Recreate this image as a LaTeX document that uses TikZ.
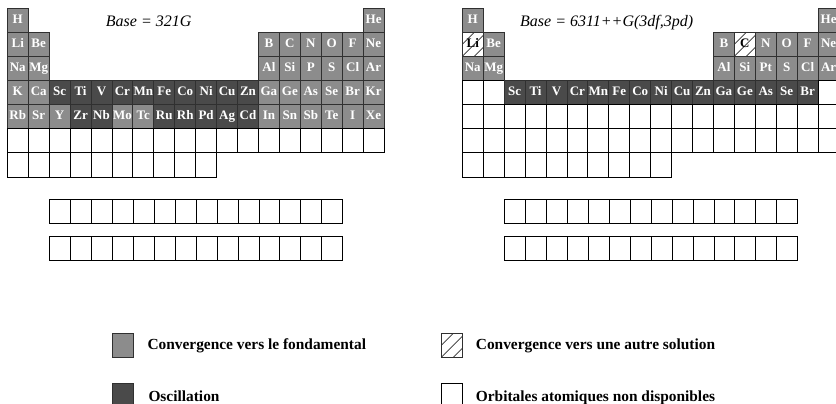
\documentclass[tikz,border=0pt]{standalone}
\usepackage{fontspec}
\setmainfont{Liberation Serif}
\definecolor{cgray}{HTML}{8C8C8C}
\definecolor{cdark}{HTML}{4A4A4A}
\definecolor{cborder}{HTML}{303030}
\begin{document}
\begin{tikzpicture}[x=1pt,y=-1pt,
  cellbase/.style={rectangle, minimum width=20.93pt, minimum height=24.15pt, inner sep=0pt,
    text height=9pt, text depth=2.5pt,
    font=\fontsize{13}{14}\selectfont\bfseries, line width=0.8pt},
  conv/.style={cellbase, fill=cgray, draw=cborder, text=white},
  osc/.style={cellbase, fill=cdark, draw=cborder, text=white},
  emptycell/.style={cellbase, fill=white, draw=black, line width=0.9pt},
  hatchcell/.style={cellbase, fill=white, draw=cborder, text=black,
    path picture={\foreach \k in {-24,-12,0,12}
      \draw[line width=0.7pt] ([xshift=\k pt]path picture bounding box.south west) -- ++(36pt,36pt);}},
  legtext/.style={anchor=base west, inner sep=0pt, font=\fontsize{15.4}{17}\selectfont\bfseries},
  titletext/.style={anchor=base west, inner sep=0pt, font=\fontsize{16}{18}\selectfont\itshape}
]
\useasboundingbox (0,0) rectangle (836,404);

% ---------- left table ----------
\def\xa{7.3}\def\ya{8}
\foreach \c/\r/\lab/\st in {
  1/1/H/conv, 18/1/He/conv,
  1/2/Li/conv, 2/2/Be/conv, 13/2/B/conv, 14/2/C/conv, 15/2/N/conv, 16/2/O/conv, 17/2/F/conv, 18/2/Ne/conv,
  1/3/Na/conv, 2/3/Mg/conv, 13/3/Al/conv, 14/3/Si/conv, 15/3/P/conv, 16/3/S/conv, 17/3/Cl/conv, 18/3/Ar/conv,
  1/4/K/conv, 2/4/Ca/conv, 3/4/Sc/osc, 4/4/Ti/osc, 5/4/V/osc, 6/4/Cr/osc, 7/4/Mn/osc, 8/4/Fe/osc,
  9/4/Co/osc, 10/4/Ni/osc, 11/4/Cu/osc, 12/4/Zn/osc, 13/4/Ga/conv, 14/4/Ge/conv, 15/4/As/conv,
  16/4/Se/conv, 17/4/Br/conv, 18/4/Kr/conv,
  1/5/Rb/conv, 2/5/Sr/conv, 3/5/Y/conv, 4/5/Zr/osc, 5/5/Nb/osc, 6/5/Mo/conv, 7/5/Tc/conv, 8/5/Ru/osc,
  9/5/Rh/osc, 10/5/Pd/osc, 11/5/Ag/osc, 12/5/Cd/osc, 13/5/In/conv, 14/5/Sn/conv, 15/5/Sb/conv,
  16/5/Te/conv, 17/5/I/conv, 18/5/Xe/conv}
  \node[\st] (L\c-\r) at ({\xa+(\c-0.5)*20.93},{\ya+(\r-0.5)*24.15}) {\lab};
\foreach \c in {1,...,18}
  \node[emptycell] (L\c-6) at ({\xa+(\c-0.5)*20.93},{\ya+5.5*24.15}) {};
\foreach \c in {1,...,10}
  \node[emptycell] (L\c-7) at ({\xa+(\c-0.5)*20.93},{\ya+6.5*24.15}) {};
\foreach \c in {1,...,14} {
  \node[emptycell] (La\c) at ({49.7+(\c-0.5)*20.93},{199.3+12.1}) {};
  \node[emptycell] (Lb\c) at ({49.7+(\c-0.5)*20.93},{236.7+12.1}) {};
}
\node[titletext] (titleL) at (105.7,26.7) {Base = 321G};

% ---------- right table ----------
\def\xb{462.3}
\foreach \c/\r/\lab/\st in {
  1/1/H/conv, 18/1/He/conv,
  1/2/Li/hatchcell, 2/2/Be/conv, 13/2/B/conv, 14/2/C/hatchcell, 15/2/N/conv, 16/2/O/conv, 17/2/F/conv, 18/2/Ne/conv,
  1/3/Na/conv, 2/3/Mg/conv, 13/3/Al/conv, 14/3/Si/conv, 15/3/Pt/conv, 16/3/S/conv, 17/3/Cl/conv, 18/3/Ar/conv,
  1/4//emptycell, 2/4//emptycell, 3/4/Sc/osc, 4/4/Ti/osc, 5/4/V/osc, 6/4/Cr/osc, 7/4/Mn/osc, 8/4/Fe/osc,
  9/4/Co/osc, 10/4/Ni/osc, 11/4/Cu/osc, 12/4/Zn/osc, 13/4/Ga/osc, 14/4/Ge/osc, 15/4/As/osc,
  16/4/Se/osc, 17/4/Br/osc, 18/4//emptycell}
  \node[\st] (R\c-\r) at ({\xb+(\c-0.5)*20.93},{\ya+(\r-0.5)*24.15}) {\lab};
\foreach \c in {1,...,18} {
  \node[emptycell] (R\c-5) at ({\xb+(\c-0.5)*20.93},{\ya+4.5*24.15}) {};
  \node[emptycell] (R\c-6) at ({\xb+(\c-0.5)*20.93},{\ya+5.5*24.15}) {};
}
\foreach \c in {1,...,10}
  \node[emptycell] (R\c-7) at ({\xb+(\c-0.5)*20.93},{\ya+6.5*24.15}) {};
\foreach \c in {1,...,14} {
  \node[emptycell] (Ra\c) at ({504.7+(\c-0.5)*20.93},{199.3+12.1}) {};
  \node[emptycell] (Rb\c) at ({504.7+(\c-0.5)*20.93},{236.7+12.1}) {};
}
\node[titletext] (titleR) at (520,26.7) {Base = 6311++G(3df,3pd)};

% ---------- legend ----------
\node[conv] (k1) at (122.8,345.3) {};
\node[legtext] (t1) at (147.3,349.3) {Convergence vers le fondamental};
\node[osc] (k2) at (122.8,395.4) {};
\node[legtext] (t2) at (148.3,401.5) {Oscillation};
\node[hatchcell] (k3) at (451.7,345.3) {};
\node[legtext] (t3) at (475.7,349.3) {Convergence vers une autre solution};
\node[emptycell] (k4) at (451.7,395.4) {};
\node[legtext] (t4) at (475.7,401.5) {Orbitales atomiques non disponibles};
\end{tikzpicture}
\end{document}
